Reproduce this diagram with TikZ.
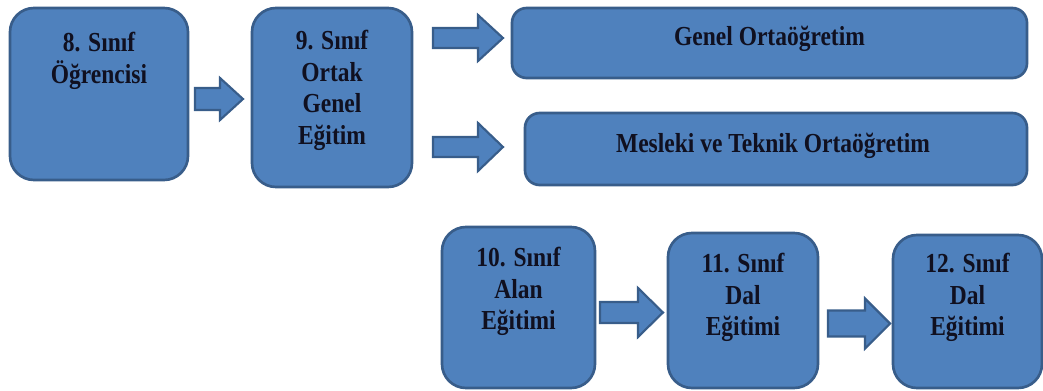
\documentclass[tikz,border=0pt]{standalone}
\usepackage{fontspec}
\setmainfont{Liberation Serif}
\newfontfamily\labelfont[FakeStretch=0.855]{Liberation Serif}
\definecolor{boxfill}{HTML}{4F81BD}
\definecolor{boxline}{HTML}{385D8A}
\definecolor{inktext}{HTML}{101020}
% block arrow: from x=#1 to tip x=#2, centred on y=#3,
% shaft half-width #4, head half-width #5, head length #6 (all in px)
\newcommand\blockarrow[6]{%
  \draw[flowarrow] ({#1},{#3-#4}) -- ({#2-#6},{#3-#4}) -- ({#2-#6},{#3-#5})
    -- ({#2},{#3}) -- ({#2-#6},{#3+#5}) -- ({#2-#6},{#3+#4})
    -- ({#1},{#3+#4}) -- cycle;}
\begin{document}
\begin{tikzpicture}[x=0.75pt,y=-0.75pt,
  stage/.style={draw=boxline, fill=boxfill, line width=2pt,
    rounded corners=18pt, inner sep=0pt},
  band/.style={stage, rounded corners=11pt},
  txt/.style={inner sep=0pt, align=center, text=inktext,
    font=\labelfont\fontsize{20.6}{23.8}\selectfont\bfseries},
  flowarrow/.style={draw=boxline, fill=boxfill, line width=1.6pt, line join=miter}]
\useasboundingbox (0,0) rectangle (1043,390);

% stage boxes
\node[stage, minimum width=133.5pt, minimum height=129pt]   (b8)  at (99,94)      {};
\node[stage, minimum width=120pt,   minimum height=134.25pt] (b9)  at (332,97.5)   {};
\node[band,  minimum width=386.25pt, minimum height=52.5pt]  (genel)   at (769.5,43) {};
\node[band,  minimum width=376.5pt, minimum height=54pt]     (mesleki) at (776,149)  {};
\node[stage, minimum width=114.75pt, minimum height=120.75pt] (b10) at (518.5,307.5) {};
\node[stage, minimum width=112.5pt, minimum height=116.25pt]  (b11) at (743,310.5)   {};
\node[stage, minimum width=111.75pt, minimum height=114.75pt] (b12) at (967.5,311.5) {};

% box texts
\node[txt, anchor=north] (t8)  at ([yshift=-18.75pt]b8.north)  {8. Sınıf\\Öğrencisi};
\node[txt, anchor=north] (t9)  at ([yshift=-17.25pt]b9.north)  {9. Sınıf\\Ortak\\Genel\\Eğitim};
\node[txt, anchor=base]  (tg)  at (769.5,45)  {Genel Ortaöğretim};
\node[txt, anchor=base]  (tm)  at (773,152)   {Mesleki ve Teknik Ortaöğretim};
\node[txt, anchor=north] (t10) at ([yshift=-15.75pt]b10.north) {10. Sınıf\\Alan\\Eğitimi};
\node[txt, anchor=north] (t11) at ([yshift=-15.75pt]b11.north) {11. Sınıf\\Dal\\Eğitimi};
\node[txt, anchor=north] (t12) at ([yshift=-14.25pt]b12.north) {12. Sınıf\\Dal\\Eğitimi};

% block arrows between the stages
\blockarrow{195}{243}{99}{11}{21}{23}
\blockarrow{433}{503}{38}{10}{23}{25}
\blockarrow{433}{503}{147}{10}{24}{25}
\blockarrow{600}{663}{312.5}{10.5}{24.5}{25}
\blockarrow{828}{890}{323.5}{13}{25}{25}
\end{tikzpicture}
\end{document}
